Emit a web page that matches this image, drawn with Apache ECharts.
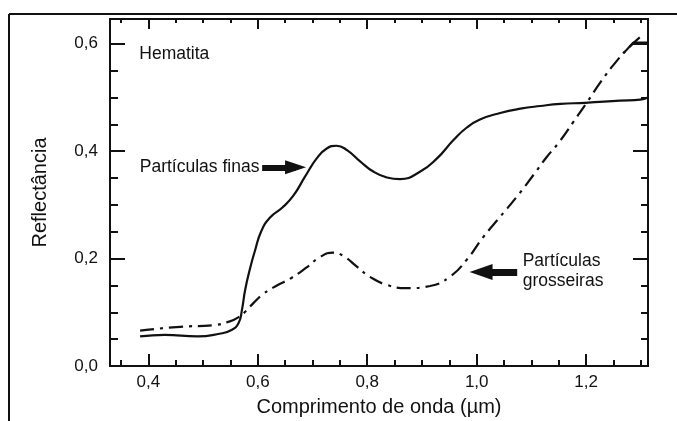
<!DOCTYPE html>
<html>
<head>
<meta charset="utf-8">
<script src="https://cdn.jsdelivr.net/npm/echarts@6/dist/echarts.min.js"></script>
<style>
  html, body { margin: 0; padding: 0; background: #fff; }
  #chart { width: 677px; height: 421px; }
</style>
</head>
<body>
<div id="chart"></div>
<script>
// Axis extents (wavelength in µm, reflectance as fraction)
const wavelengthRange = [0.33, 1.313];
const reflectanceRange = [0, 0.646];

// Tick positions
const xMajorTicks = [0.4, 0.6, 0.8, 1.0, 1.2];
const xMinorTicks = [0.35, 0.45, 0.5, 0.55, 0.65, 0.7, 0.75, 0.85, 0.9, 0.95, 1.05, 1.1, 1.15, 1.25, 1.3];
const yMajorTicks = [0, 0.2, 0.4, 0.6];
const yMinorTicks = [0.05, 0.1, 0.15, 0.25, 0.3, 0.35, 0.45, 0.5, 0.55];

// Hematite reflectance spectra: [wavelength µm, reflectance]
const fineParticles = [
  [0.385, 0.055], [0.43, 0.058], [0.49, 0.055], [0.53, 0.060], [0.552, 0.067],
  [0.565, 0.080], [0.571, 0.104], [0.577, 0.142], [0.586, 0.182], [0.595, 0.215],
  [0.606, 0.250], [0.622, 0.276], [0.645, 0.295], [0.665, 0.317], [0.686, 0.352],
  [0.708, 0.387], [0.726, 0.405], [0.744, 0.410], [0.763, 0.402], [0.787, 0.381],
  [0.811, 0.362], [0.836, 0.351], [0.86, 0.348], [0.897, 0.362], [0.927, 0.386],
  [0.958, 0.421], [0.982, 0.444], [1.006, 0.459], [1.043, 0.471], [1.08, 0.479],
  [1.116, 0.484], [1.153, 0.488], [1.198, 0.490], [1.262, 0.494], [1.299, 0.496],
  [1.313, 0.500]
];
const coarseParticles = [
  [0.385, 0.066], [0.458, 0.073], [0.519, 0.076], [0.549, 0.083], [0.562, 0.089],
  [0.577, 0.101], [0.592, 0.117], [0.61, 0.134], [0.635, 0.150], [0.66, 0.163],
  [0.69, 0.184], [0.714, 0.203], [0.738, 0.211], [0.756, 0.205], [0.781, 0.185],
  [0.805, 0.166], [0.836, 0.151], [0.872, 0.145], [0.915, 0.149], [0.952, 0.167],
  [0.982, 0.198], [1.012, 0.240], [1.043, 0.278], [1.074, 0.316], [1.104, 0.356],
  [1.128, 0.389], [1.153, 0.420], [1.177, 0.455], [1.201, 0.490], [1.226, 0.528],
  [1.256, 0.568], [1.281, 0.596], [1.305, 0.618]
];
const coarsePlateau = [[1.268, 0.582], [1.286, 0.602], [1.313, 0.602]];

// Annotations (data coordinates)
const sampleLabel = { text: 'Hematita', at: [0.3835, 0.581] };
const fineLabel = { text: 'Partículas finas', at: [0.603, 0.370] };
const coarseLabel = { text: 'Partículas\ngrosseiras', at: [1.084, 0.176] };
const fineArrow = [[0.608, 0.370], [0.669, 0.370]];
const coarseArrow = [[1.074, 0.175], [1.008, 0.175]];

const INK = '#111';
const FONT = '"Liberation Sans", Arial, sans-serif';
const fmt = v => v.toFixed(1).replace('.', ',');

const gridRect = { left: 110, top: 19, right: 29, bottom: 55, outerBoundsMode: 'none' };

function xAxisFor(gridIndex, position, ticks, tickLen, opts) {
  return Object.assign({
    type: 'value', gridIndex, position,
    min: wavelengthRange[0], max: wavelengthRange[1],
    axisLine: { show: true, onZero: false, lineStyle: { color: INK, width: 2 } },
    axisTick: { show: true, inside: true, length: tickLen, customValues: ticks, lineStyle: { color: INK, width: 2 } },
    axisLabel: { show: false },
    splitLine: { show: false }
  }, opts || {});
}
function yAxisFor(gridIndex, position, ticks, tickLen, opts) {
  return Object.assign({
    type: 'value', gridIndex, position,
    min: reflectanceRange[0], max: reflectanceRange[1],
    axisLine: { show: true, onZero: false, lineStyle: { color: INK, width: 2 } },
    axisTick: { show: true, inside: true, length: tickLen, customValues: ticks, lineStyle: { color: INK, width: 2 } },
    axisLabel: { show: false },
    splitLine: { show: false }
  }, opts || {});
}

const chart = echarts.init(document.getElementById('chart'), null, { renderer: 'canvas' });

chart.setOption({
  animation: false,
  backgroundColor: '#fff',
  grid: [gridRect, gridRect, gridRect, gridRect].map(r => Object.assign({}, r)),
  xAxis: [
    xAxisFor(0, 'bottom', xMajorTicks, 12, {
      axisLabel: { show: true, customValues: xMajorTicks, formatter: fmt, color: INK, fontSize: 17, fontFamily: FONT, margin: 8 },
      name: 'Comprimento de onda (µm)', nameLocation: 'middle', nameGap: 31,
      nameTextStyle: { color: INK, fontSize: 20, fontFamily: FONT }
    }),
    xAxisFor(1, 'bottom', xMinorTicks, 6),
    xAxisFor(2, 'top', xMajorTicks, 10),
    xAxisFor(3, 'top', xMinorTicks, 4)
  ],
  yAxis: [
    yAxisFor(0, 'left', yMajorTicks, 15, {
      axisLabel: { show: true, customValues: yMajorTicks, formatter: fmt, color: INK, fontSize: 17, fontFamily: FONT, margin: 12 },
      name: 'Reflectância', nameLocation: 'middle', nameGap: 60,
      nameTextStyle: { color: INK, fontSize: 20, fontFamily: FONT }
    }),
    yAxisFor(1, 'left', yMinorTicks, 8),
    yAxisFor(2, 'right', yMajorTicks, 15),
    yAxisFor(3, 'right', yMinorTicks, 7)
  ],
  series: [
    {
      name: 'Partículas finas', type: 'line', xAxisIndex: 0, yAxisIndex: 0,
      data: fineParticles, showSymbol: false, symbol: 'none',
      smooth: 0.5,
      lineStyle: { color: INK, width: 2.2 },
      markLine: {
        silent: true, animation: false,
        label: { show: false },
        data: [
          [
            { coord: fineArrow[0], symbol: 'none' },
            { coord: fineArrow[1], symbol: 'triangle', symbolSize: [14, 21] }
          ],
          [
            { coord: coarseArrow[0], symbol: 'none' },
            { coord: coarseArrow[1], symbol: 'triangle', symbolSize: [16, 23], lineStyle: { width: 7 } }
          ]
        ],
        lineStyle: { color: INK, width: 6, type: 'solid' },
        itemStyle: { color: INK }
      }
    },
    {
      name: 'Partículas grosseiras', type: 'line', xAxisIndex: 0, yAxisIndex: 0,
      data: coarseParticles, showSymbol: false, symbol: 'none',
      smooth: 0.5,
      lineStyle: { color: INK, width: 2.2, type: [14, 6, 3, 6] }
    },
    {
      name: 'grosseiras-topo', type: 'line', xAxisIndex: 0, yAxisIndex: 0,
      data: coarsePlateau, showSymbol: false, symbol: 'none',
      lineStyle: { color: INK, width: 2.2 }
    }
  ]
});

// Text annotations anchored in data space
function place(label, align, verticalAlign) {
  const p = chart.convertToPixel({ gridIndex: 0 }, label.at);
  return {
    type: 'text', x: p[0], y: p[1], silent: true,
    style: {
      text: label.text, fill: INK, fontSize: 17.5, fontFamily: FONT,
      align, verticalAlign, lineHeight: 20
    }
  };
}

chart.setOption({
  graphic: [
    // outer frame
    { type: 'line', silent: true, shape: { x1: 9, y1: 14, x2: 677, y2: 14 }, style: { stroke: INK, lineWidth: 2 } },
    { type: 'line', silent: true, shape: { x1: 9, y1: 14, x2: 9, y2: 421 }, style: { stroke: INK, lineWidth: 2 } },
    place(sampleLabel, 'left', 'middle'),
    place(fineLabel, 'right', 'middle'),
    place(coarseLabel, 'left', 'middle')
  ]
});
</script>
</body>
</html>
